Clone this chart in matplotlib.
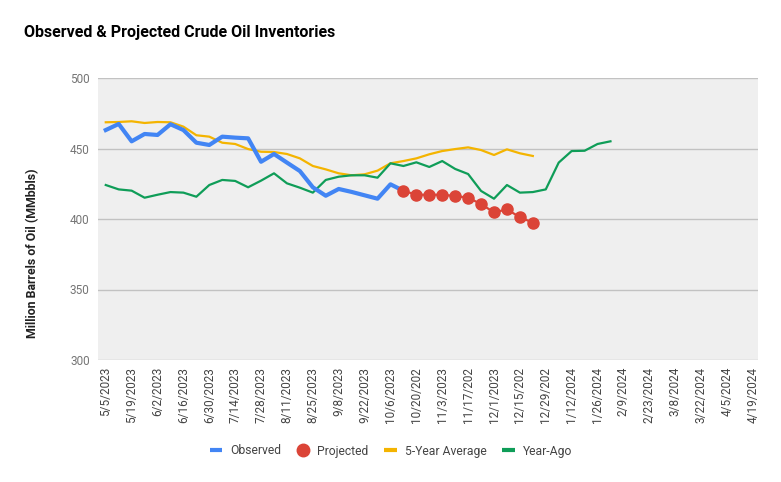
import matplotlib
matplotlib.use('Agg')
from matplotlib import pyplot as plt
from matplotlib.lines import Line2D

plt.rcParams['font.family'] = ['Roboto', 'DejaVu Sans']

# weekly data, week 0 = 5/5/2023
observed = [463.1, 467.4, 455.1, 460.3, 459.6, 467.2, 463.1, 454.1, 452.5, 458.4,
            457.7, 457.2, 440.6, 446.1, 440.0, 434.0, 422.5, 416.5, 421.3, 419.2,
            416.8, 414.4, 424.6, 420.0]
projected = [420.0, 417.2, 417.2, 417.2, 416.3, 415.1, 410.6, 404.7, 406.8, 401.3, 397.4]
avg5 = [468.6, 468.8, 469.3, 468.1, 468.8, 468.6, 465.5, 459.4, 458.4, 454.1,
        453.2, 449.6, 447.7, 447.5, 446.1, 443.0, 437.6, 435.2, 432.4, 431.0,
        431.7, 434.3, 439.5, 441.1, 443.0, 445.9, 448.2, 449.6, 450.8, 448.9,
        445.4, 449.4, 446.6, 444.7]
year_ago = [424.1, 421.0, 420.1, 415.1, 417.2, 419.1, 418.7, 415.8, 424.1, 427.7,
            427.0, 422.5, 427.2, 432.4, 425.3, 422.2, 418.7, 427.7, 430.0, 431.0,
            431.0, 429.3, 439.5, 437.6, 440.2, 436.9, 441.1, 435.5, 431.9, 419.9,
            414.4, 424.1, 418.7, 419.1, 421.0, 440.0, 448.2, 448.4, 453.2, 455.1]
tick_labels = ['5/5/2023', '5/19/2023', '6/2/2023', '6/16/2023', '6/30/2023',
               '7/14/2023', '7/28/2023', '8/11/2023', '8/25/2023', '9/8/2023',
               '9/22/2023', '10/6/2023', '10/20/202', '11/3/2023', '11/17/202',
               '12/1/2023', '12/15/202', '12/29/202', '1/12/2024', '1/26/2024',
               '2/9/2024', '2/23/2024', '3/8/2024', '3/22/2024', '4/5/2024',
               '4/19/2024']

blue, red, yellow, green = '#4285F4', '#DB4437', '#F4B400', '#0F9D58'

fig = plt.figure(figsize=(7.81, 4.82), dpi=100)
ax = fig.add_axes([98 / 781, 1 - 360 / 482, 660 / 781, 282 / 482])
ax.set_facecolor('#efefef')

ax.plot(range(len(avg5)), avg5, color=yellow, lw=1.6, zorder=3)
ax.plot(range(len(year_ago)), year_ago, color=green, lw=1.6, zorder=3)
ax.plot(range(len(observed)), observed, color=blue, lw=3.0, zorder=4)
p0 = len(observed) - 1
ax.plot(range(p0, p0 + len(projected)), projected, color=red, lw=1.6,
        marker='o', ms=8.0, zorder=5)

ax.set_xlim(-0.6, 50.4)
ax.set_ylim(300, 500)
ax.set_yticks([300, 350, 400, 450, 500])
ax.grid(axis='y', color='#c2c2c2', lw=1)
ax.set_axisbelow(True)
for s in ax.spines.values():
    s.set_visible(False)
ax.set_xticks(range(0, 51, 2))
ax.set_xticklabels(tick_labels, rotation=90, fontsize=8.5, color='#444444')
ax.tick_params(axis='both', length=0, pad=5)
ax.tick_params(axis='y', labelsize=8.5, labelcolor='#757575', pad=6)

fig.text(33 / 781, 1 - 253 / 482, 'Million Barrels of Oil (MMbbls)', rotation=90,
         fontsize=8.9, fontweight='bold', ha='center', va='center', color='#222222')

fig.text(24 / 781, 1 - 33 / 482, 'Observed & Projected Crude Oil Inventories',
         fontsize=11.5, fontweight='bold', va='center', ha='left', color='#000000')

handles = [Line2D([], [], color=blue, lw=3, solid_capstyle='butt'),
           Line2D([], [], color=red, lw=0, marker='o', ms=9),
           Line2D([], [], color=yellow, lw=3, solid_capstyle='butt'),
           Line2D([], [], color=green, lw=3, solid_capstyle='butt')]
fig.legend(handles, ['Observed', 'Projected', '5-Year Average', 'Year-Ago'],
           loc='center', bbox_to_anchor=(391 / 781, 1 - 451 / 482), ncol=4,
           frameon=False, fontsize=8.7, handlelength=1.03, columnspacing=1.3,
           handletextpad=0.66, labelcolor='#444444')

fig.savefig('out.png', dpi=100)
